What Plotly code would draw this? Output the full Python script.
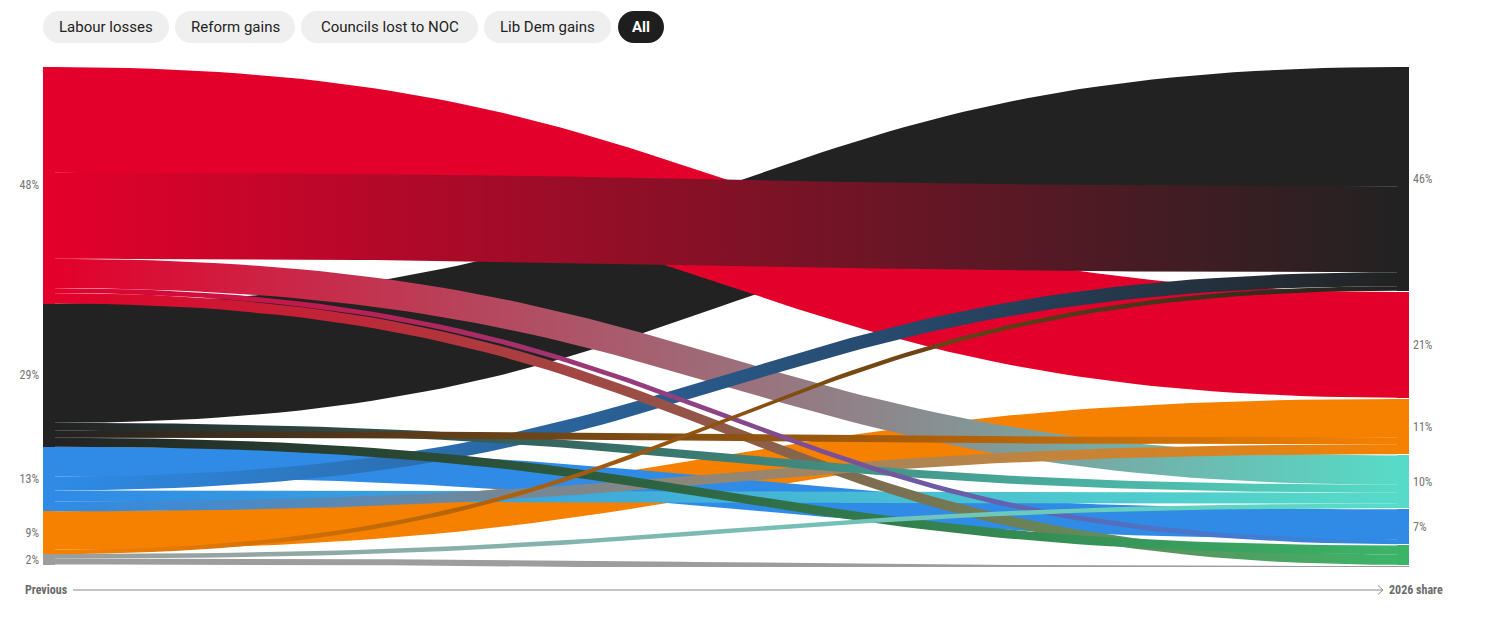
import numpy as np
import plotly.graph_objects as go

W, H = 1497, 623

# ---------------- data ----------------
parties = ["Labour", "No overall control", "Conservative", "Lib Dem", "Reform UK", "Green", "Other"]
party_colors = ["#e3002b", "#222222", "#2f8be6", "#f68100", "#57dbc8", "#3cb468", "#9d9d9d"]

left_nodes = ["Labour", "No overall control", "Conservative", "Lib Dem", "Other"]
left_labels = ["48%", "29%", "13%", "9%", "2%"]
right_nodes = ["No overall control", "Labour", "Lib Dem", "Reform UK", "Conservative", "Green", "Other"]
right_labels = ["46%", "21%", "11%", "10%", "7%", "", ""]

# flows (share of councils, %), listed in the order they stack on the left
flow_from = ["Labour", "Labour", "Labour", "Labour", "Labour",
             "No overall control", "No overall control", "No overall control", "No overall control",
             "Conservative", "Conservative", "Conservative", "Conservative",
             "Lib Dem", "Lib Dem",
             "Other", "Other"]
flow_to = ["Labour", "No overall control", "Reform UK", "Conservative", "Green",
           "No overall control", "Reform UK", "Lib Dem", "Green",
           "Conservative", "No overall control", "Reform UK", "Lib Dem",
           "Lib Dem", "No overall control",
           "Reform UK", "Other"]
flow_share = [21.3, 17.3, 5.9, 1.0, 2.1,
              24.0, 1.6, 1.4, 1.8,
              6.0, 2.8, 2.2, 2.0,
              7.7, 0.9,
              0.9, 1.2]
# order in which flows stack on the right-hand (2026) side
right_stack = [5, 1, 10, 14, 0, 13, 7, 12, 2, 6, 11, 15, 9, 3, 8, 4, 16]

buttons = ["Labour losses", "Reform gains", "Councils lost to NOC", "Lib Dem gains", "All"]

# ---------------- style ----------------
NODE_W = 12 / 1366.0
GAP_RIGHT = 0.25
col = dict(zip(parties, party_colors))
FONT_NUM = "Liberation Sans Narrow, Roboto Condensed, Roboto, sans-serif"
FONT_UI = "Roboto, Lato, sans-serif"


def X(p):
    return p / W


def Y(p):
    return 1 - p / H


# node totals and positions
def totals(nodes, key):
    return [sum(v for k, v in zip(key, flow_share) if k == n) for n in nodes]


left_tot = totals(left_nodes, flow_from)
right_tot = totals(right_nodes, flow_to)
left_base = list(np.concatenate([[0], np.cumsum(left_tot)[:-1]]))
right_base = [sum(right_tot[:i]) + GAP_RIGHT * i for i in range(len(right_nodes))]

# flow offsets
y_src = [0.0] * len(flow_share)
acc = {n: b for n, b in zip(left_nodes, left_base)}
for i, (s, v) in enumerate(zip(flow_from, flow_share)):
    y_src[i] = acc[s]
    acc[s] += v
y_tgt = [0.0] * len(flow_share)
acc = {n: b for n, b in zip(right_nodes, right_base)}
for i in right_stack:
    t = flow_to[i]
    y_tgt[i] = acc[t]
    acc[t] += flow_share[i]

fig = go.Figure()

# flows, thickest drawn first
x0, x1 = NODE_W, 1 - NODE_W
xm = (x0 + x1) / 2
t = np.linspace(0, 1, 80)
bx = (1 - t) ** 3 * x0 + 3 * (1 - t) ** 2 * t * xm + 3 * (1 - t) * t ** 2 * xm + t ** 3 * x1
fy = 3 * (1 - t) * t ** 2 + t ** 3
for i in sorted(range(len(flow_share)), key=lambda k: -flow_share[k]):
    v = flow_share[i]
    top = y_src[i] + (y_tgt[i] - y_src[i]) * fy
    bot = top + v
    xs = np.concatenate([bx, bx[::-1], [bx[0]]])
    ys = np.concatenate([top, bot[::-1], [top[0]]])
    cs, ct = col[flow_from[i]], col[flow_to[i]]
    fig.add_trace(go.Scatter(
        x=xs, y=ys, mode="lines", fill="toself", line=dict(width=0),
        fillcolor=cs,
        fillgradient=dict(type="horizontal", colorscale=[[0, cs], [1, ct]]),
        hoveron="fills", name=f"{flow_from[i]} → {flow_to[i]}",
        text=f"{flow_from[i]} → {flow_to[i]}: {v:.1f}%", hoverinfo="text",
        showlegend=False))

# nodes
fig.add_trace(go.Bar(x=[NODE_W / 2] * len(left_nodes), y=left_tot, base=left_base, width=NODE_W,
                     marker=dict(color=[col[n] for n in left_nodes], line=dict(width=0)),
                     hovertext=left_nodes, hoverinfo="text", showlegend=False))
fig.add_trace(go.Bar(x=[1 - NODE_W / 2] * len(right_nodes), y=right_tot, base=right_base, width=NODE_W,
                     marker=dict(color=[col[n] for n in right_nodes], line=dict(width=0)),
                     hovertext=right_nodes, hoverinfo="text", showlegend=False))
# invisible trace to activate the right axis
fig.add_trace(go.Scatter(x=[0.5], y=[0], yaxis="y2", mode="markers", marker=dict(opacity=0),
                         hoverinfo="skip", showlegend=False))

left_mid = [b + v / 2 for b, v in zip(left_base, left_tot)]
right_mid = [b + v / 2 for b, v in zip(right_base, right_tot)]
yrange = [100.6, 0]
ydom = [Y(567), Y(67)]
tickfont = dict(family=FONT_NUM, size=12, color="#737373")

shapes = []
annotations = []

# bottom axis
shapes.append(dict(type="line", xref="paper", yref="paper", x0=X(73), x1=X(1383), y0=Y(590), y1=Y(590),
                   line=dict(color="#8a8a8a", width=1)))
shapes.append(dict(type="path", xref="paper", yref="paper",
                   path=f"M {X(1378)},{Y(585.5)} L {X(1383)},{Y(590)} L {X(1378)},{Y(594.5)}",
                   line=dict(color="#8a8a8a", width=1)))
annotations.append(dict(text="<b>Previous</b>", xref="paper", yref="paper", x=X(70), y=Y(590),
                        xanchor="right", yanchor="middle", showarrow=False,
                        font=dict(family=FONT_NUM, size=12, color="#6b6b6b")))
annotations.append(dict(text="<b>2026 share</b>", xref="paper", yref="paper", x=X(1387), y=Y(590),
                        xanchor="left", yanchor="middle", showarrow=False,
                        font=dict(family=FONT_NUM, size=12, color="#6b6b6b")))

# buttons (pills)
pill_x = [(43, 169), (175, 295), (301, 478), (484, 611), (618, 664)]
k = 0.5523


def pill(a, b, c, d):
    r = (d - c) / 2
    m = (c + d) / 2
    pts = [("M", [(a + r, c)]), ("L", [(b - r, c)]),
           ("C", [(b - r + k * r, c), (b, m - k * r), (b, m)]),
           ("C", [(b, m + k * r), (b - r + k * r, d), (b - r, d)]),
           ("L", [(a + r, d)]),
           ("C", [(a + r - k * r, d), (a, m + k * r), (a, m)]),
           ("C", [(a, m - k * r), (a + r - k * r, c), (a + r, c)])]
    s = ""
    for cmd, pp in pts:
        s += cmd + " " + " ".join(f"{X(px):.5f},{Y(py):.5f}" for px, py in pp) + " "
    return s + "Z"


for lab, (a, b) in zip(buttons, pill_x):
    active = lab == "All"
    shapes.append(dict(type="path", xref="paper", yref="paper", path=pill(a, b, 11, 43),
                       fillcolor="#1e1e1e" if active else "#efefef", line=dict(width=0), layer="below"))
    annotations.append(dict(text=f"<b>{lab}</b>" if active else lab, xref="paper", yref="paper",
                            x=X((a + b) / 2), y=Y(27), xanchor="center", yanchor="middle", showarrow=False,
                            font=dict(family=FONT_UI, size=15, color="#ffffff" if active else "#222222")))

fig.update_layout(
    width=W, height=H, margin=dict(l=0, r=0, t=0, b=0),
    paper_bgcolor="white", plot_bgcolor="white",
    barmode="overlay", bargap=0, hovermode="closest",
    xaxis=dict(domain=[X(43), X(1409)], range=[0, 1], showgrid=False, zeroline=False,
               showticklabels=False, fixedrange=True),
    yaxis=dict(domain=ydom, range=yrange, showgrid=False, zeroline=False, tickmode="array",
               tickvals=left_mid, ticktext=left_labels, ticks="", tickfont=tickfont,
               ticklabelstandoff=3, fixedrange=True),
    yaxis2=dict(domain=ydom, range=yrange, overlaying="y", side="right", showgrid=False, zeroline=False,
                tickmode="array", tickvals=right_mid, ticktext=right_labels, ticks="", tickfont=tickfont,
                ticklabelstandoff=3, fixedrange=True),
    shapes=shapes, annotations=annotations,
)

fig.write_html("out.html", config={"displayModeBar": False},
               post_script="document.body.style.margin='0';document.body.style.overflow='hidden';")
